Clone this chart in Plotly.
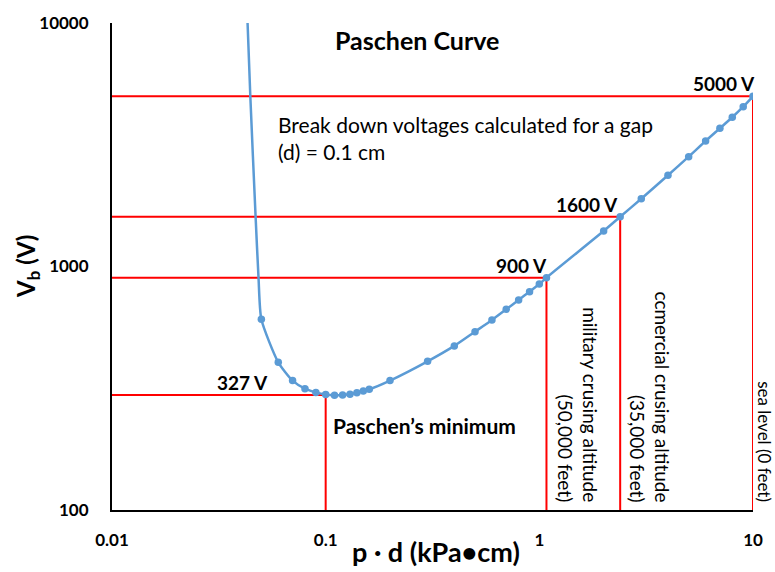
import plotly.graph_objects as go
import math

# Steep branch (line only, no markers)
steep_pd = [0.0431, 0.0444, 0.0470, 0.0485]
steep_v = [10000, 5000, 1600, 900]

# Marked calculated points
pd_pts = [0.05, 0.06, 0.07, 0.08, 0.09, 0.10, 0.11, 0.12, 0.13, 0.14, 0.15, 0.16,
          0.2, 0.3, 0.4, 0.5, 0.6, 0.7, 0.8, 0.9, 1.0, 1.08,
          2.0, 2.39, 3, 4, 5, 6, 7, 8, 9, 10]
v_pts = [607, 404, 340, 315, 304, 298, 296, 297, 299, 303, 308, 313,
         340, 408, 472, 540, 603, 667, 729, 788, 847, 900,
         1399, 1600, 1898, 2369, 2825, 3277, 3694, 4100, 4532, 5000]

# Reference (red) lines
ref_pd = [0.1, 1.08, 2.39, 10]
ref_v = [297, 900, 1600, 5000]
ref_labels = ["327 V", "900 V", "1600 V", "5000 V"]
alt_labels = ["", "military crusing altitude<br>(50,000 feet)",
              "ccmercial crusing altitude<br>(35,000 feet)", "sea level (0 feet)"]

x_ticks = [0.01, 0.1, 1, 10]
x_ticklabels = ["0.01", "0.1", "1", "10"]
y_ticks = [100, 1000, 10000]
y_ticklabels = ["100", "1000", "10000"]

FONT = "Lato"
BLUE = "#5B9BD5"
RED = "#FF0000"

fig = go.Figure()

# red reference lines
for px, pv in zip(ref_pd, ref_v):
    fig.add_trace(go.Scatter(x=[x_ticks[0], px, px], y=[pv, pv, y_ticks[0]],
                             mode="lines", line=dict(color=RED, width=2),
                             hoverinfo="skip", showlegend=False))

# curve
fig.add_trace(go.Scatter(x=steep_pd + pd_pts, y=steep_v + v_pts, mode="lines",
                         line=dict(color=BLUE, width=2.5, shape="spline", smoothing=0.6),
                         showlegend=False))
fig.add_trace(go.Scatter(x=pd_pts, y=v_pts, mode="markers",
                         marker=dict(color=BLUE, size=7.5), showlegend=False))

ann = []
# voltage labels
lab_xshift = [-56, 3, 0, 4]
for px, pv, lab, xs in zip(ref_pd, ref_v, ref_labels, lab_xshift):
    ann.append(dict(x=math.log10(px), y=math.log10(pv), xref="x", yref="y",
                    text="<b>" + lab + "</b>", showarrow=False,
                    xanchor="right", yanchor="bottom", xshift=xs, yshift=-1,
                    font=dict(family=FONT, size=19, color="black")))
# altitude labels (vertical)
alt_xshift = [0, 6, 4, -1]
alt_size = [19, 19, 19, 17]
for px, lab, xs, fs in zip(ref_pd, alt_labels, alt_xshift, alt_size):
    if not lab:
        continue
    ann.append(dict(x=math.log10(px), y=0.012, xref="x", yref="paper",
                    text=lab, showarrow=False, textangle=90, align="right",
                    xanchor="left", yanchor="bottom", xshift=xs,
                    font=dict(family=FONT, size=fs, color="black")))

ann.append(dict(x=0.476, y=1.0, xref="paper", yref="paper", text="<b>Paschen Curve</b>",
                showarrow=False, xanchor="center", yanchor="top",
                font=dict(family=FONT, size=25, color="black")))
ann.append(dict(x=0.256, y=0.822, xref="paper", yref="paper",
                text="Break down voltages calculated for a gap<br>(d) = 0.1 cm",
                showarrow=False, xanchor="left", yanchor="top", align="left",
                font=dict(family=FONT, size=21, color="black")))
ann.append(dict(x=0.342, y=0.1745, xref="paper", yref="paper",
                text="<b>Paschen\u2019s minimum</b>",
                showarrow=False, xanchor="center" if False else "left", yanchor="middle",
                font=dict(family=FONT, size=21, color="black")))
# axis titles
ann.append(dict(x=0.505, y=-0.086, xref="paper", yref="paper",
                text="<b>p \u00b7 d (kPa\u2022cm)</b>",
                showarrow=False, xanchor="center", yanchor="middle",
                font=dict(family=FONT, size=27, color="black")))
ann.append(dict(x=-0.132, y=0.5, xref="paper", yref="paper",
                text="<b>V<sub>b</sub> (V)</b>", textangle=-90,
                showarrow=False, xanchor="center", yanchor="middle",
                font=dict(family=FONT, size=24, color="black")))

fig.update_layout(
    width=775, height=572,
    margin=dict(l=112, r=20, t=23, b=62),
    paper_bgcolor="white", plot_bgcolor="white",
    annotations=ann,
    font=dict(family=FONT, color="black"),
    xaxis=dict(type="log", range=[-2, 1], tickvals=x_ticks,
               ticktext=["<b>" + t + "</b>" for t in x_ticklabels],
               showgrid=False, zeroline=False, showline=True, linecolor="black",
               linewidth=2, ticks="", tickfont=dict(family=FONT, size=17),
               ticklabelstandoff=14),
    yaxis=dict(type="log", range=[2, 4], tickvals=y_ticks,
               ticktext=["<b>" + t + "</b>" for t in y_ticklabels],
               showgrid=False, zeroline=False, showline=True, linecolor="black",
               linewidth=2, ticks="", tickfont=dict(family=FONT, size=17),
               ticklabelstandoff=18),
)

fig.write_html("out.html")
